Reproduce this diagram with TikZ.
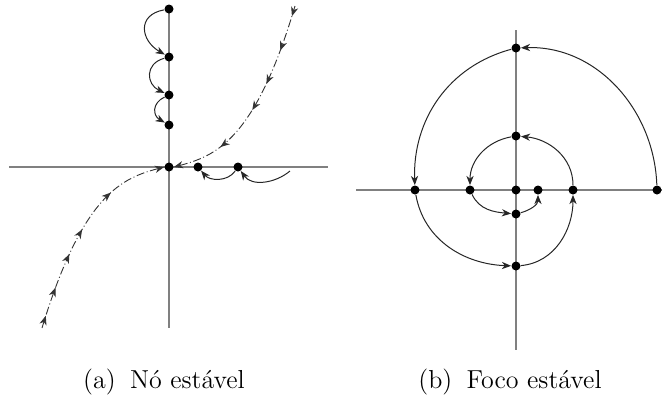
\documentclass[tikz,border=0pt]{standalone}
\usetikzlibrary{arrows.meta,decorations.markings}
\begin{document}
\begin{tikzpicture}[x=0.5pt,y=0.5pt,
  dot/.style={circle,fill=black,inner sep=0pt,minimum size=4.5pt},
  axis/.style={draw=black!50,line width=0.6pt},
  tip/.style={},
  flow/.style={draw=black!85,line width=0.5pt,-{Stealth[length=4.6pt,width=3.6pt,inset=1.4pt]}},
  dd/.style={draw=black!80,line width=0.45pt,dash pattern=on 4pt off 1.3pt on 0.5pt off 1.3pt},
  captext/.style={anchor=base,inner sep=0pt,font=\fontsize{13}{15}\selectfont}]
\useasboundingbox (0,0) rectangle (663,-398);
% ---------- (a) ----------
\coordinate (axL) at (9,-167);
\coordinate (axR) at (328,-167);
\coordinate (axT) at (169,-9);
\coordinate (axB) at (169,-328);
\draw[axis] (axL) -- (axR);
\draw[axis] (axT) -- (axB);
\node[dot] (o) at (169,-167) {};
\node[dot] (v1) at (169,-9) {};
\node[dot] (v2) at (169,-57) {};
\node[dot] (v3) at (169,-95) {};
\node[dot] (v4) at (169,-125) {};
\node[dot] (h1) at (198,-167) {};
\node[dot] (h2) at (238,-167) {};
\coordinate (hs) at (290,-171);
\draw[flow] (v1) to[out=190,in=150,looseness=1.6] (v2);
\draw[flow] (v2) to[out=195,in=155,looseness=1.5] (v3);
\draw[flow] (v3) to[out=205,in=150,looseness=1.4] (v4);
\draw[flow] (hs) to[out=-140,in=-55] (h2);
\draw[flow] (h2) to[out=-125,in=-50] (h1);
% dash-dot trajectories
\coordinate (ur) at (295,-6);
\coordinate (ll) at (42,-328);
\draw[dd,
  decoration={markings,
    mark=at position 0.05 with {\arrow{Stealth[length=4.6pt,width=3.6pt,inset=1.4pt]}},
    mark=at position 0.22 with {\arrow{Stealth[length=4.6pt,width=3.6pt,inset=1.4pt]}},
    mark=at position 0.39 with {\arrow{Stealth[length=4.6pt,width=3.6pt,inset=1.4pt]}},
    mark=at position 0.53 with {\arrow{Stealth[length=4.6pt,width=3.6pt,inset=1.4pt]}},
    mark=at position 0.76 with {\arrow{Stealth[length=4.6pt,width=3.6pt,inset=1.4pt]}},
    mark=at position 1 with {\arrow{Stealth[length=4.6pt,width=3.6pt,inset=1.4pt]}}},
  postaction={decorate}]
  (ur) .. controls (253,-147.7) and (211,-157.3) .. (o.east);
\draw[dd,
  decoration={markings,
    mark=at position 0.06 with {\arrow{Stealth[length=4.6pt,width=3.6pt,inset=1.4pt]}},
    mark=at position 0.2 with {\arrow{Stealth[length=4.6pt,width=3.6pt,inset=1.4pt]}},
    mark=at position 0.37 with {\arrow{Stealth[length=4.6pt,width=3.6pt,inset=1.4pt]}},
    mark=at position 0.5 with {\arrow{Stealth[length=4.6pt,width=3.6pt,inset=1.4pt]}},
    mark=at position 0.72 with {\arrow{Stealth[length=4.6pt,width=3.6pt,inset=1.4pt]}},
    mark=at position 1 with {\arrow{Stealth[length=4.6pt,width=3.6pt,inset=1.4pt]}}},
  postaction={decorate}]
  (ll) .. controls (85,-186.3) and (127,-176.7) .. (o.west);
\node[captext] (capa) at (164,-388) {(a)\hspace{0.55em}Nó estável};
% ---------- (b) ----------
\coordinate (bxL) at (356,-190);
\coordinate (bxR) at (662,-190);
\coordinate (bxT) at (516,-30);
\coordinate (bxB) at (516,-350);
\draw[axis] (bxL) -- (bxR);
\draw[axis] (bxT) -- (bxB);
\node[dot] (O) at (516,-190) {};
\node[dot] (t1) at (516,-48) {};
\node[dot] (t2) at (516,-136) {};
\node[dot] (b1) at (516,-214) {};
\node[dot] (b2) at (516,-266) {};
\node[dot] (l1) at (415,-190) {};
\node[dot] (l2) at (470,-190) {};
\node[dot] (r1) at (538,-190) {};
\node[dot] (r2) at (573,-190) {};
\node[dot] (r3) at (657,-190) {};
\draw[flow] (r3) to[out=92,in=2] (t1);
\draw[flow] (t1) to[out=195,in=92] (l1);
\draw[flow] (l1) to[out=-80,in=178] (b2);
\draw[flow] (b2) to[out=5,in=-90] (r2);
\draw[flow] (r2) to[out=90,in=-5] (t2);
\draw[flow] (t2) to[out=190,in=90] (l2);
\draw[flow] (l2) to[out=-65,in=175] (b1);
\draw[flow] (b1) to[out=15,in=-90] (r1);
\node[captext] (capb) at (510,-388) {(b)\hspace{0.55em}Foco estável};
\end{tikzpicture}
\end{document}
